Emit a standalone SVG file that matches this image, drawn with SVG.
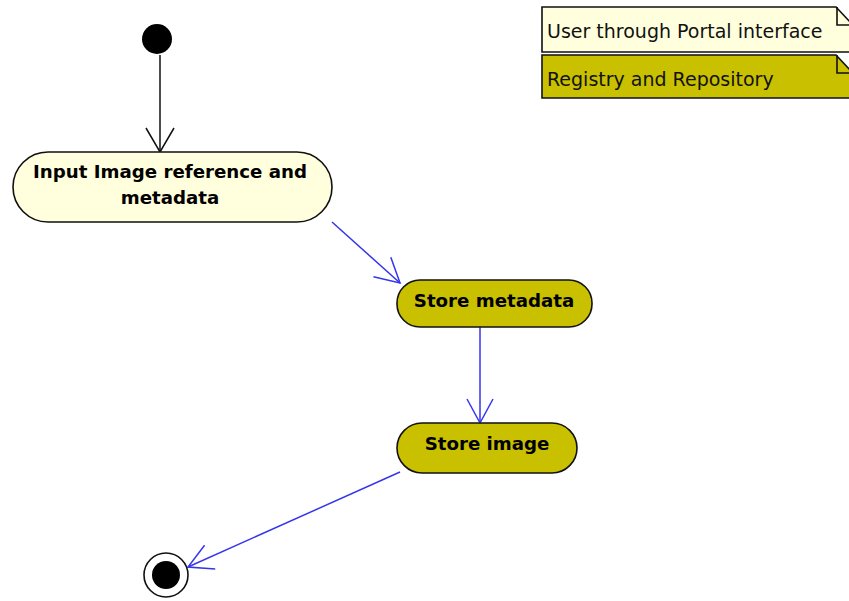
<svg xmlns="http://www.w3.org/2000/svg" width="849" height="601" viewBox="0 0 849 601">
  <defs>
    <style>
      .light { fill: #ffffdd; stroke: #111; stroke-width: 1.6; }
      .olive { fill: #c9c000; stroke: #111; stroke-width: 1.6; }
      .label { font-family: "DejaVu Sans", Verdana, sans-serif; font-weight: bold; font-size: 18.2px; fill: #000; text-anchor: middle; }
      .legend { font-family: "DejaVu Sans", Verdana, sans-serif; font-size: 19px; fill: #111; }
      .flow { fill: none; stroke: #3535ee; stroke-width: 1.5; }
      .start { fill: none; stroke: #111; stroke-width: 1.5; }
    </style>
    <marker id="openBlue" markerUnits="userSpaceOnUse" markerWidth="30" markerHeight="30" viewBox="-2 -15 28 30" refX="24" refY="0" orient="auto">
      <path d="M0,-13 L24,0 L0,13" fill="none" stroke="#3535ee" stroke-width="1.5"/>
    </marker>
    <marker id="openBlack" markerUnits="userSpaceOnUse" markerWidth="30" markerHeight="30" viewBox="-2 -15 28 30" refX="24" refY="0" orient="auto">
      <path d="M0,-14 L24,0 L0,14" fill="none" stroke="#111" stroke-width="1.5"/>
    </marker>
  </defs>

  <!-- legend notes -->
  <g id="legend-portal">
    <path class="light" d="M542,7 H836 L852,24 V52 H542 Z"/>
    <path d="M837,7 V25 H852" fill="none" stroke="#111" stroke-width="1.6"/>
    <text class="legend" x="547" y="38">User through Portal interface</text>
  </g>
  <g id="legend-registry">
    <path class="olive" d="M542,55 H836 L852,72 V98 H542 Z"/>
    <path d="M837,55 V73 H852" fill="none" stroke="#111" stroke-width="1.6"/>
    <text class="legend" x="547" y="86">Registry and Repository</text>
  </g>

  <!-- connectors -->
  <g id="connectors">
    <line class="start" x1="160" y1="55" x2="160" y2="152" marker-end="url(#openBlack)"/>
    <line class="flow" x1="332" y1="222" x2="400" y2="283" marker-end="url(#openBlue)"/>
    <line class="flow" x1="480" y1="327" x2="480" y2="423" marker-end="url(#openBlue)"/>
    <line class="flow" x1="400" y1="472" x2="188" y2="567" marker-end="url(#openBlue)"/>
  </g>

  <!-- initial state -->
  <g id="initial">
    <circle cx="157" cy="39" r="15" fill="#000"/>
  </g>

  <!-- activities -->
  <g id="input-image">
    <rect class="light" x="13" y="152" width="319" height="70" rx="35" ry="35"/>
    <text class="label" x="170" y="178">Input Image reference and</text>
    <text class="label" x="170" y="204">metadata</text>
  </g>
  <g id="store-metadata">
    <rect class="olive" x="397" y="280" width="195" height="47" rx="23" ry="23"/>
    <text class="label" x="494" y="307">Store metadata</text>
  </g>
  <g id="store-image">
    <rect class="olive" x="397" y="423" width="180" height="50" rx="25" ry="25"/>
    <text class="label" x="487" y="450">Store image</text>
  </g>

  <!-- final state -->
  <g id="final">
    <circle cx="166" cy="575" r="22" fill="#fff" stroke="#111" stroke-width="1.6"/>
    <circle cx="166" cy="575" r="14" fill="#000"/>
  </g>
</svg>
